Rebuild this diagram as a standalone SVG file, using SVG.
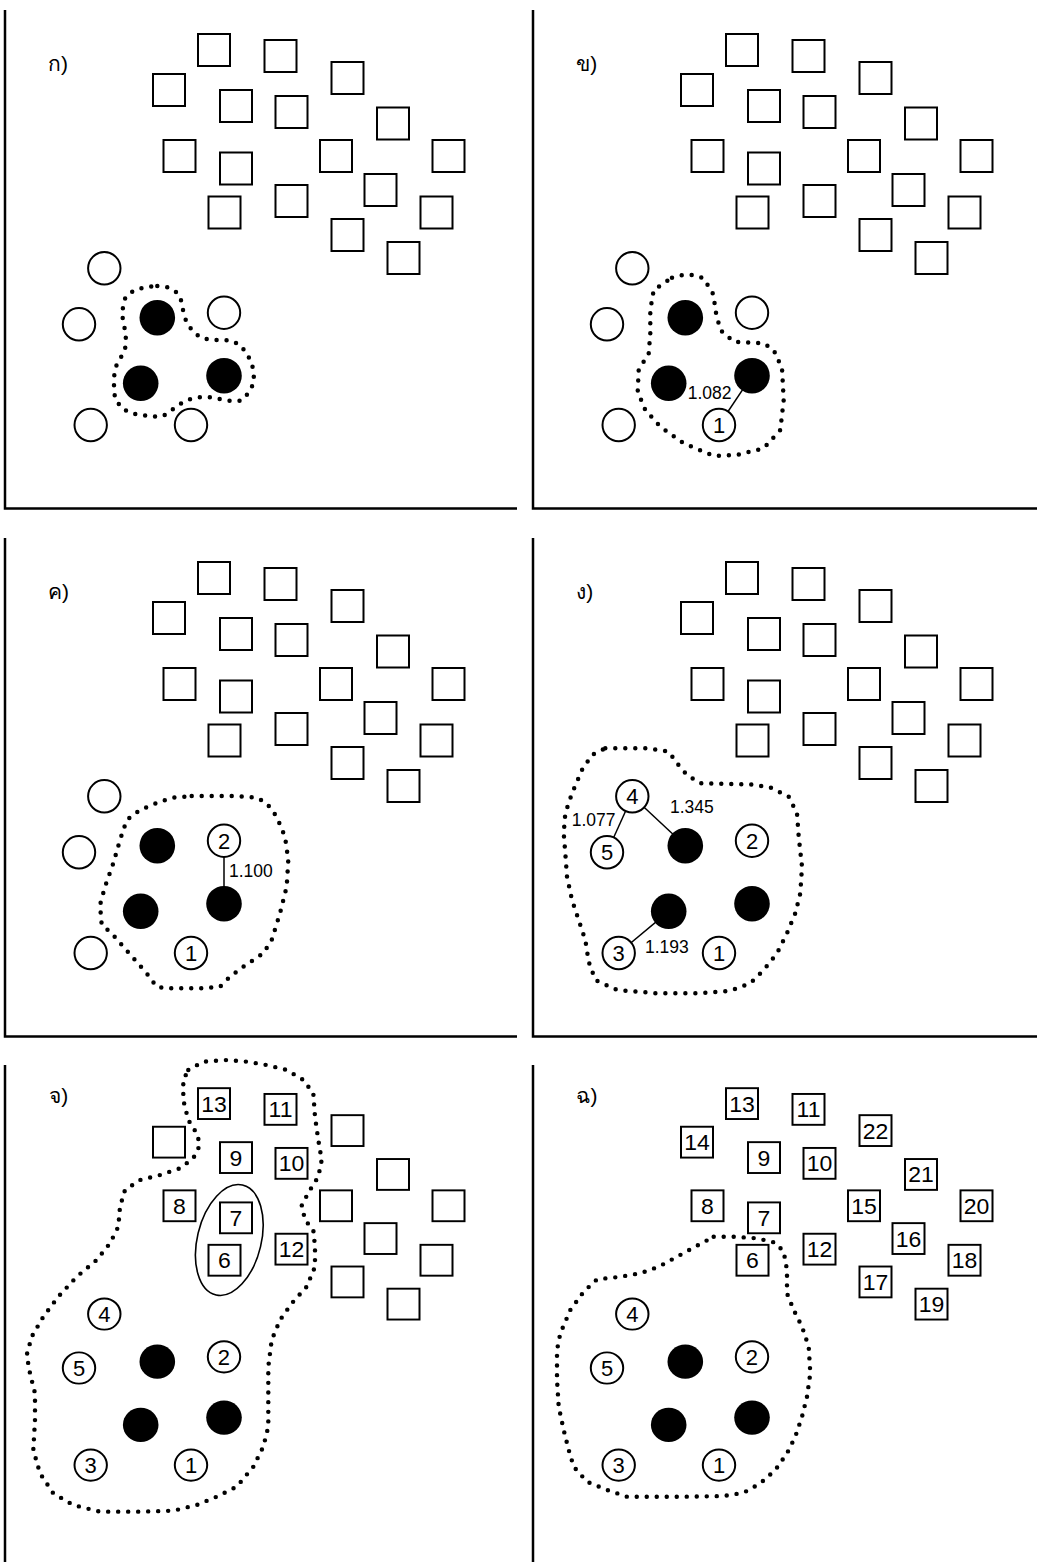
<svg xmlns="http://www.w3.org/2000/svg" width="1037" height="1562" viewBox="0 0 1037 1562">
<style>
.frame{fill:none;stroke:#000;stroke-width:2.5}
.sq{fill:#fff;stroke:#000;stroke-width:2}
.oc{fill:#fff;stroke:#000;stroke-width:2}
.fc{fill:#000}
.hull{fill:none;stroke:#000;stroke-width:4.5;stroke-linecap:round;stroke-linejoin:round;stroke-dasharray:0 10}
.edge{stroke:#000;stroke-width:1.5}
.ell{fill:none;stroke:#000;stroke-width:1.6}
text{font-family:"Liberation Sans",Arial,"Noto Sans","DejaVu Sans",sans-serif;fill:#000}
.num{font-size:23px;text-anchor:middle}
.cn{font-size:22px;text-anchor:middle}
.w{font-size:17.5px}
.lab{font-size:21px}
</style>
<rect width="1037" height="1562" fill="#fff"/>

<!-- Panel ก -->
<g id="panel-1">
<path class="frame" d="M5,10 V508.5 H517"/>
<text class="lab" x="48" y="71">ก)</text>
<g id="p1-nodes">
<g id="p1-s1"><rect class="sq" x="198" y="34" width="32" height="32"/></g>
<g id="p1-s2"><rect class="sq" x="264.5" y="40" width="32" height="32"/></g>
<g id="p1-s3"><rect class="sq" x="331.5" y="62" width="32" height="32"/></g>
<g id="p1-s4"><rect class="sq" x="153" y="74" width="32" height="32"/></g>
<g id="p1-s5"><rect class="sq" x="220" y="90" width="32" height="32"/></g>
<g id="p1-s6"><rect class="sq" x="275.5" y="96" width="32" height="32"/></g>
<g id="p1-s7"><rect class="sq" x="377" y="107.5" width="32" height="32"/></g>
<g id="p1-s8"><rect class="sq" x="163.5" y="140" width="32" height="32"/></g>
<g id="p1-s9"><rect class="sq" x="220" y="152.5" width="32" height="32"/></g>
<g id="p1-s10"><rect class="sq" x="320" y="140" width="32" height="32"/></g>
<g id="p1-s11"><rect class="sq" x="432.5" y="140" width="32" height="32"/></g>
<g id="p1-s12"><rect class="sq" x="364.5" y="174" width="32" height="32"/></g>
<g id="p1-s13"><rect class="sq" x="208.5" y="196.5" width="32" height="32"/></g>
<g id="p1-s14"><rect class="sq" x="275.5" y="185" width="32" height="32"/></g>
<g id="p1-s15"><rect class="sq" x="420.5" y="196.5" width="32" height="32"/></g>
<g id="p1-s16"><rect class="sq" x="331.5" y="219" width="32" height="32"/></g>
<g id="p1-s17"><rect class="sq" x="387.5" y="242" width="32" height="32"/></g>
<g id="p1-ca"><circle class="oc" cx="104.3" cy="268.3" r="16.2"/></g>
<g id="p1-cb"><circle class="oc" cx="79" cy="324.3" r="16.2"/></g>
<g id="p1-cc"><circle class="oc" cx="224" cy="312.7" r="16.2"/></g>
<g id="p1-cd"><circle class="oc" cx="90.7" cy="425" r="16.2"/></g>
<g id="p1-ce"><circle class="oc" cx="191" cy="425" r="16.2"/></g>
<g id="p1-cf"><circle class="fc" cx="157.3" cy="317.7" r="17.8"/></g>
<g id="p1-cg"><circle class="fc" cx="140.7" cy="383.3" r="17.8"/></g>
<g id="p1-ch"><circle class="fc" cx="224" cy="375.7" r="17.8"/></g>
</g>
<path id="p1-hull" class="hull" d="M157.3,286 L168.3,287.3 L177.3,292.7 L181.7,301.7 L183.3,311.7 L186,320.7 L191.7,330 L200,337.3 L210,340 L220.7,340 L231.7,340.7 L240,345 L246.7,353.3 L251.7,363.3 L254,373.3 L253.3,384 L248.3,393.3 L241.7,400.7 L231.7,401 L220.7,399.3 L210,397.3 L199.3,397.3 L189.3,399.3 L180,404 L171.7,410 L163.3,416 L152.7,416.7 L141.7,415 L131.7,413.3 L121.7,408.3 L115,398.3 L114,388.3 L114,378.3 L115,368.3 L120,359 L125,350 L126,340 L125,330 L122.7,319.3 L122.7,309.3 L124,300 L129.3,293.3 L137.3,289.3 L146.7,286.7 Z"/>
</g>

<!-- Panel ข -->
<g id="panel-2" transform="translate(528,0)">
<path class="frame" d="M5,10 V508.5 H509"/>
<text class="lab" x="48.3" y="71">ข)</text>
<g id="p2-connectors"><line class="edge" x1="191" y1="425" x2="224" y2="375.7"/></g>
<g id="p2-nodes">
<g id="p2-s1"><rect class="sq" x="198" y="34" width="32" height="32"/></g>
<g id="p2-s2"><rect class="sq" x="264.5" y="40" width="32" height="32"/></g>
<g id="p2-s3"><rect class="sq" x="331.5" y="62" width="32" height="32"/></g>
<g id="p2-s4"><rect class="sq" x="153" y="74" width="32" height="32"/></g>
<g id="p2-s5"><rect class="sq" x="220" y="90" width="32" height="32"/></g>
<g id="p2-s6"><rect class="sq" x="275.5" y="96" width="32" height="32"/></g>
<g id="p2-s7"><rect class="sq" x="377" y="107.5" width="32" height="32"/></g>
<g id="p2-s8"><rect class="sq" x="163.5" y="140" width="32" height="32"/></g>
<g id="p2-s9"><rect class="sq" x="220" y="152.5" width="32" height="32"/></g>
<g id="p2-s10"><rect class="sq" x="320" y="140" width="32" height="32"/></g>
<g id="p2-s11"><rect class="sq" x="432.5" y="140" width="32" height="32"/></g>
<g id="p2-s12"><rect class="sq" x="364.5" y="174" width="32" height="32"/></g>
<g id="p2-s13"><rect class="sq" x="208.5" y="196.5" width="32" height="32"/></g>
<g id="p2-s14"><rect class="sq" x="275.5" y="185" width="32" height="32"/></g>
<g id="p2-s15"><rect class="sq" x="420.5" y="196.5" width="32" height="32"/></g>
<g id="p2-s16"><rect class="sq" x="331.5" y="219" width="32" height="32"/></g>
<g id="p2-s17"><rect class="sq" x="387.5" y="242" width="32" height="32"/></g>
<g id="p2-ca"><circle class="oc" cx="104.3" cy="268.3" r="16.2"/></g>
<g id="p2-cb"><circle class="oc" cx="79" cy="324.3" r="16.2"/></g>
<g id="p2-cc"><circle class="oc" cx="224" cy="312.7" r="16.2"/></g>
<g id="p2-cd"><circle class="oc" cx="90.7" cy="425" r="16.2"/></g>
<g id="p2-ce"><circle class="oc" cx="191" cy="425" r="16.2"/><text class="cn" x="191" y="433">1</text></g>
<g id="p2-cf"><circle class="fc" cx="157.3" cy="317.7" r="17.8"/></g>
<g id="p2-cg"><circle class="fc" cx="140.7" cy="383.3" r="17.8"/></g>
<g id="p2-ch"><circle class="fc" cx="224" cy="375.7" r="17.8"/></g>
</g>
<text class="w" x="159.7" y="399">1.082</text>
<path id="p2-hull" class="hull" d="M144,277.7 L154.7,275 L165.7,275 L175.7,278.3 L185.7,295 L187.3,310 L192.3,330 L205.7,341.7 L235.7,343.3 L245.7,350 L254,368.3 L255.7,400 L252.3,430 L235.7,448.3 L209,455 L185.7,456 L155.7,443.3 L132.3,426.7 L117.3,410 L109.7,391.7 L110.7,370 L120.7,353.3 L122.3,333.3 L122.3,310 L125.7,290 Z"/>
</g>

<!-- Panel ค -->
<g id="panel-3" transform="translate(0,528)">
<path class="frame" d="M5,10 V508.5 H517"/>
<text class="lab" x="48" y="71">ค)</text>
<g id="p3-connectors"><line class="edge" x1="224" y1="312.7" x2="224" y2="375.7"/></g>
<g id="p3-nodes">
<g id="p3-s1"><rect class="sq" x="198" y="34" width="32" height="32"/></g>
<g id="p3-s2"><rect class="sq" x="264.5" y="40" width="32" height="32"/></g>
<g id="p3-s3"><rect class="sq" x="331.5" y="62" width="32" height="32"/></g>
<g id="p3-s4"><rect class="sq" x="153" y="74" width="32" height="32"/></g>
<g id="p3-s5"><rect class="sq" x="220" y="90" width="32" height="32"/></g>
<g id="p3-s6"><rect class="sq" x="275.5" y="96" width="32" height="32"/></g>
<g id="p3-s7"><rect class="sq" x="377" y="107.5" width="32" height="32"/></g>
<g id="p3-s8"><rect class="sq" x="163.5" y="140" width="32" height="32"/></g>
<g id="p3-s9"><rect class="sq" x="220" y="152.5" width="32" height="32"/></g>
<g id="p3-s10"><rect class="sq" x="320" y="140" width="32" height="32"/></g>
<g id="p3-s11"><rect class="sq" x="432.5" y="140" width="32" height="32"/></g>
<g id="p3-s12"><rect class="sq" x="364.5" y="174" width="32" height="32"/></g>
<g id="p3-s13"><rect class="sq" x="208.5" y="196.5" width="32" height="32"/></g>
<g id="p3-s14"><rect class="sq" x="275.5" y="185" width="32" height="32"/></g>
<g id="p3-s15"><rect class="sq" x="420.5" y="196.5" width="32" height="32"/></g>
<g id="p3-s16"><rect class="sq" x="331.5" y="219" width="32" height="32"/></g>
<g id="p3-s17"><rect class="sq" x="387.5" y="242" width="32" height="32"/></g>
<g id="p3-ca"><circle class="oc" cx="104.3" cy="268.3" r="16.2"/></g>
<g id="p3-cb"><circle class="oc" cx="79" cy="324.3" r="16.2"/></g>
<g id="p3-cc"><circle class="oc" cx="224" cy="312.7" r="16.2"/><text class="cn" x="224" y="320.7">2</text></g>
<g id="p3-cd"><circle class="oc" cx="90.7" cy="425" r="16.2"/></g>
<g id="p3-ce"><circle class="oc" cx="191" cy="425" r="16.2"/><text class="cn" x="191" y="433">1</text></g>
<g id="p3-cf"><circle class="fc" cx="157.3" cy="317.7" r="17.8"/></g>
<g id="p3-cg"><circle class="fc" cx="140.7" cy="383.3" r="17.8"/></g>
<g id="p3-ch"><circle class="fc" cx="224" cy="375.7" r="17.8"/></g>
</g>
<text class="w" x="229" y="349">1.100</text>
<path id="p3-hull" class="hull" d="M191.7,268 L213.3,268 L235,268 L256.7,269.7 L266.7,275.3 L276.7,288.7 L285,308.7 L288.3,332 L286.7,358.7 L280,385.3 L271.7,412 L263.3,425.3 L243.3,438.7 L230,448.7 L220,458.7 L200,460.3 L166.7,460.3 L156.7,458.7 L146.7,445.3 L135,432 L123.3,418.7 L111.7,405.3 L101.7,397 L100,377 L105,358.7 L113.3,335.3 L120,312 L126.7,292 L140,282 L160,273.7 L173.3,269.7 Z"/>
</g>

<!-- Panel ง -->
<g id="panel-4" transform="translate(528,528)">
<path class="frame" d="M5,10 V508.5 H509"/>
<text class="lab" x="48.3" y="71">ง)</text>
<g id="p4-connectors">
<line class="edge" x1="104.3" y1="268.3" x2="79" y2="324.3"/>
<line class="edge" x1="104.3" y1="268.3" x2="157.3" y2="317.7"/>
<line class="edge" x1="140.7" y1="383.3" x2="90.7" y2="425"/>
</g>
<g id="p4-nodes">
<g id="p4-s1"><rect class="sq" x="198" y="34" width="32" height="32"/></g>
<g id="p4-s2"><rect class="sq" x="264.5" y="40" width="32" height="32"/></g>
<g id="p4-s3"><rect class="sq" x="331.5" y="62" width="32" height="32"/></g>
<g id="p4-s4"><rect class="sq" x="153" y="74" width="32" height="32"/></g>
<g id="p4-s5"><rect class="sq" x="220" y="90" width="32" height="32"/></g>
<g id="p4-s6"><rect class="sq" x="275.5" y="96" width="32" height="32"/></g>
<g id="p4-s7"><rect class="sq" x="377" y="107.5" width="32" height="32"/></g>
<g id="p4-s8"><rect class="sq" x="163.5" y="140" width="32" height="32"/></g>
<g id="p4-s9"><rect class="sq" x="220" y="152.5" width="32" height="32"/></g>
<g id="p4-s10"><rect class="sq" x="320" y="140" width="32" height="32"/></g>
<g id="p4-s11"><rect class="sq" x="432.5" y="140" width="32" height="32"/></g>
<g id="p4-s12"><rect class="sq" x="364.5" y="174" width="32" height="32"/></g>
<g id="p4-s13"><rect class="sq" x="208.5" y="196.5" width="32" height="32"/></g>
<g id="p4-s14"><rect class="sq" x="275.5" y="185" width="32" height="32"/></g>
<g id="p4-s15"><rect class="sq" x="420.5" y="196.5" width="32" height="32"/></g>
<g id="p4-s16"><rect class="sq" x="331.5" y="219" width="32" height="32"/></g>
<g id="p4-s17"><rect class="sq" x="387.5" y="242" width="32" height="32"/></g>
<g id="p4-ca"><circle class="oc" cx="104.3" cy="268.3" r="16.2"/><text class="cn" x="104.3" y="276.3">4</text></g>
<g id="p4-cb"><circle class="oc" cx="79" cy="324.3" r="16.2"/><text class="cn" x="79" y="332.3">5</text></g>
<g id="p4-cc"><circle class="oc" cx="224" cy="312.7" r="16.2"/><text class="cn" x="224" y="320.7">2</text></g>
<g id="p4-cd"><circle class="oc" cx="90.7" cy="425" r="16.2"/><text class="cn" x="90.7" y="433">3</text></g>
<g id="p4-ce"><circle class="oc" cx="191" cy="425" r="16.2"/><text class="cn" x="191" y="433">1</text></g>
<g id="p4-cf"><circle class="fc" cx="157.3" cy="317.7" r="17.8"/></g>
<g id="p4-cg"><circle class="fc" cx="140.7" cy="383.3" r="17.8"/></g>
<g id="p4-ch"><circle class="fc" cx="224" cy="375.7" r="17.8"/></g>
</g>
<text class="w" x="43.7" y="298">1.077</text>
<text class="w" x="142" y="285.3">1.345</text>
<text class="w" x="117" y="425.3">1.193</text>
<path id="p4-hull" class="hull" d="M77.3,220.3 L99,220.3 L120.7,220.3 L140.7,223.7 L149,235.3 L159,247 L172.3,255.3 L199,256 L222.3,256.3 L242.3,259.3 L260.7,268.7 L269,285.3 L270.7,308.7 L274,338.7 L272.3,365.3 L267.3,385.3 L259,405.3 L249,425.3 L235.7,442 L222.3,455.3 L202.3,462.7 L172.3,465.3 L129,465.3 L89,462 L67.3,452 L60.7,433.7 L57.3,412 L50.7,392 L44,372 L39,348.7 L37.3,325.3 L35.7,305.3 L37.3,285.3 L44,265.3 L54,242 L64,227 Z"/>
</g>

<!-- Panel จ -->
<g id="panel-5" transform="translate(0,1055.4) scale(1,0.964)">
<path class="frame" d="M5,10 V530"/>
<text class="lab" x="49" y="49.4">จ)</text>
<g id="p5-nodes">
<g id="p5-s1"><rect class="sq" x="198" y="34" width="32" height="32"/><text class="num" x="214" y="58.3">13</text></g>
<g id="p5-s2"><rect class="sq" x="264.5" y="40" width="32" height="32"/><text class="num" x="280.5" y="64.3">11</text></g>
<g id="p5-s3"><rect class="sq" x="331.5" y="62" width="32" height="32"/></g>
<g id="p5-s4"><rect class="sq" x="153" y="74" width="32" height="32"/></g>
<g id="p5-s5"><rect class="sq" x="220" y="90" width="32" height="32"/><text class="num" x="236" y="114.3">9</text></g>
<g id="p5-s6"><rect class="sq" x="275.5" y="96" width="32" height="32"/><text class="num" x="291.5" y="120.3">10</text></g>
<g id="p5-s7"><rect class="sq" x="377" y="107.5" width="32" height="32"/></g>
<g id="p5-s8"><rect class="sq" x="163.5" y="140" width="32" height="32"/><text class="num" x="179.5" y="164.3">8</text></g>
<g id="p5-s9"><rect class="sq" x="220" y="152.5" width="32" height="32"/><text class="num" x="236" y="176.8">7</text></g>
<g id="p5-s10"><rect class="sq" x="320" y="140" width="32" height="32"/></g>
<g id="p5-s11"><rect class="sq" x="432.5" y="140" width="32" height="32"/></g>
<g id="p5-s12"><rect class="sq" x="364.5" y="174" width="32" height="32"/></g>
<g id="p5-s13"><rect class="sq" x="208.5" y="196.5" width="32" height="32"/><text class="num" x="224.5" y="220.8">6</text></g>
<g id="p5-s14"><rect class="sq" x="275.5" y="185" width="32" height="32"/><text class="num" x="291.5" y="209.3">12</text></g>
<g id="p5-s15"><rect class="sq" x="420.5" y="196.5" width="32" height="32"/></g>
<g id="p5-s16"><rect class="sq" x="331.5" y="219" width="32" height="32"/></g>
<g id="p5-s17"><rect class="sq" x="387.5" y="242" width="32" height="32"/></g>
<g id="p5-ca"><circle class="oc" cx="104.3" cy="268.3" r="16.2"/><text class="cn" x="104.3" y="276.3">4</text></g>
<g id="p5-cb"><circle class="oc" cx="79" cy="324.3" r="16.2"/><text class="cn" x="79" y="332.3">5</text></g>
<g id="p5-cc"><circle class="oc" cx="224" cy="312.7" r="16.2"/><text class="cn" x="224" y="320.7">2</text></g>
<g id="p5-cd"><circle class="oc" cx="90.7" cy="425" r="16.2"/><text class="cn" x="90.7" y="433">3</text></g>
<g id="p5-ce"><circle class="oc" cx="191" cy="425" r="16.2"/><text class="cn" x="191" y="433">1</text></g>
<g id="p5-cf"><circle class="fc" cx="157.3" cy="317.7" r="17.8"/></g>
<g id="p5-cg"><circle class="fc" cx="140.7" cy="383.3" r="17.8"/></g>
<g id="p5-ch"><circle class="fc" cx="224" cy="375.7" r="17.8"/></g>
</g>
<ellipse id="p5-ellipse" class="ell" cx="229.3" cy="191.5" rx="32" ry="58.5" transform="rotate(13 229.3 191.5)"/>
<path id="p5-hull" class="hull" d="M188.3,15.1 L203.3,6.5 L226.7,4.8 L246.7,6.5 L266.7,10 L286.7,15.1 L303.3,25.5 L313.3,39.3 L315,63.6 L318.3,87.8 L321.7,108.5 L318.3,125.8 L310,139.6 L301.7,155.2 L305,170.7 L313.3,181.1 L315,198.4 L315,219.2 L306.7,239.9 L291.7,257.2 L280,274.5 L271.7,295.2 L268.3,322.9 L268.3,350.5 L268.3,385.2 L263.3,405.9 L253.3,426.7 L236.7,447.4 L216.7,457.8 L196.7,466.4 L173.3,472.3 L140,473.3 L100,473.3 L73.3,466.4 L53.3,454.3 L40,433.5 L33.3,409.3 L35,378.2 L35,350.5 L30,329.8 L26.7,310.8 L31.7,291.8 L43.3,271.1 L58.3,250.3 L76.7,229.6 L96.7,212.2 L110,194.9 L118.3,177.7 L120,157 L125,139.6 L140,129.3 L160,124.1 L180,117.1 L193.3,106.7 L200,92.9 L196.7,80.8 L188.3,67 L183.3,46.3 L183.3,25.5 Z"/>
</g>

<!-- Panel ฉ -->
<g id="panel-6" transform="translate(528,1055.4) scale(1,0.964)">
<path class="frame" d="M5,10 V530"/>
<text class="lab" x="48.3" y="49.4">ฉ)</text>
<g id="p6-nodes">
<g id="p6-s1"><rect class="sq" x="198" y="34" width="32" height="32"/><text class="num" x="214" y="58.3">13</text></g>
<g id="p6-s2"><rect class="sq" x="264.5" y="40" width="32" height="32"/><text class="num" x="280.5" y="64.3">11</text></g>
<g id="p6-s3"><rect class="sq" x="331.5" y="62" width="32" height="32"/><text class="num" x="347.5" y="86.3">22</text></g>
<g id="p6-s4"><rect class="sq" x="153" y="74" width="32" height="32"/><text class="num" x="169" y="98.3">14</text></g>
<g id="p6-s5"><rect class="sq" x="220" y="90" width="32" height="32"/><text class="num" x="236" y="114.3">9</text></g>
<g id="p6-s6"><rect class="sq" x="275.5" y="96" width="32" height="32"/><text class="num" x="291.5" y="120.3">10</text></g>
<g id="p6-s7"><rect class="sq" x="377" y="107.5" width="32" height="32"/><text class="num" x="393" y="131.8">21</text></g>
<g id="p6-s8"><rect class="sq" x="163.5" y="140" width="32" height="32"/><text class="num" x="179.5" y="164.3">8</text></g>
<g id="p6-s9"><rect class="sq" x="220" y="152.5" width="32" height="32"/><text class="num" x="236" y="176.8">7</text></g>
<g id="p6-s10"><rect class="sq" x="320" y="140" width="32" height="32"/><text class="num" x="336" y="164.3">15</text></g>
<g id="p6-s11"><rect class="sq" x="432.5" y="140" width="32" height="32"/><text class="num" x="448.5" y="164.3">20</text></g>
<g id="p6-s12"><rect class="sq" x="364.5" y="174" width="32" height="32"/><text class="num" x="380.5" y="198.3">16</text></g>
<g id="p6-s13"><rect class="sq" x="208.5" y="196.5" width="32" height="32"/><text class="num" x="224.5" y="220.8">6</text></g>
<g id="p6-s14"><rect class="sq" x="275.5" y="185" width="32" height="32"/><text class="num" x="291.5" y="209.3">12</text></g>
<g id="p6-s15"><rect class="sq" x="420.5" y="196.5" width="32" height="32"/><text class="num" x="436.5" y="220.8">18</text></g>
<g id="p6-s16"><rect class="sq" x="331.5" y="219" width="32" height="32"/><text class="num" x="347.5" y="243.3">17</text></g>
<g id="p6-s17"><rect class="sq" x="387.5" y="242" width="32" height="32"/><text class="num" x="403.5" y="266.3">19</text></g>
<g id="p6-ca"><circle class="oc" cx="104.3" cy="268.3" r="16.2"/><text class="cn" x="104.3" y="276.3">4</text></g>
<g id="p6-cb"><circle class="oc" cx="79" cy="324.3" r="16.2"/><text class="cn" x="79" y="332.3">5</text></g>
<g id="p6-cc"><circle class="oc" cx="224" cy="312.7" r="16.2"/><text class="cn" x="224" y="320.7">2</text></g>
<g id="p6-cd"><circle class="oc" cx="90.7" cy="425" r="16.2"/><text class="cn" x="90.7" y="433">3</text></g>
<g id="p6-ce"><circle class="oc" cx="191" cy="425" r="16.2"/><text class="cn" x="191" y="433">1</text></g>
<g id="p6-cf"><circle class="fc" cx="157.3" cy="317.7" r="17.8"/></g>
<g id="p6-cg"><circle class="fc" cx="140.7" cy="383.3" r="17.8"/></g>
<g id="p6-ch"><circle class="fc" cx="224" cy="375.7" r="17.8"/></g>
</g>
<path id="p6-hull" class="hull" d="M185.7,188.1 L205.7,188.1 L229,189.7 L247.3,194.3 L255.7,203.6 L259,222.6 L259,246.8 L265.7,264.1 L274,281.4 L280.7,302.2 L282.3,329.8 L279,354 L274,374.8 L267.3,395.5 L259,412.8 L247.3,430.1 L232.3,443.9 L215.7,453.6 L195.7,457.1 L155.7,457.8 L122.3,457.8 L99,457.8 L79,450.8 L59,442.2 L45.7,426.7 L40.7,409.3 L35.7,388.6 L30.7,364.4 L29,336.7 L29,305.6 L32.3,288.3 L42.3,264.1 L55.7,245.1 L69,232.3 L92.3,229.6 L112.3,226 L130.7,219.2 L149,208.8 L167.3,198.4 Z"/>
</g>
</svg>
